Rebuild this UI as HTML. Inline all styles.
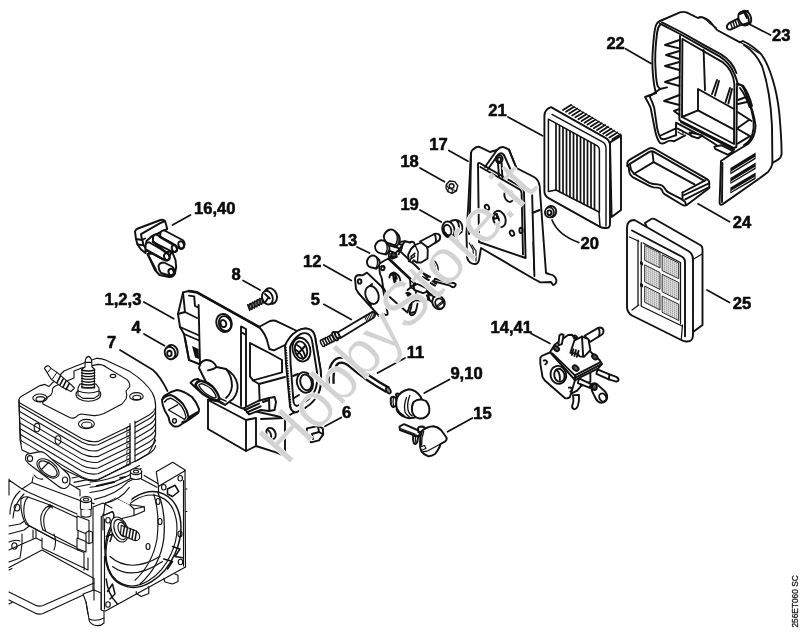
<!DOCTYPE html>
<html><head><meta charset="utf-8"><title>256ET060 SC</title>
<style>
html,body{margin:0;padding:0;background:#fff;}
body{width:800px;height:632px;overflow:hidden;}
svg{display:block;will-change:transform;}
.l{font-family:"Liberation Sans",sans-serif;font-weight:bold;font-size:16.6px;fill:#0a0a0a;stroke:#0a0a0a;stroke-width:0.55px;stroke-linejoin:round;}
.p{fill:none;stroke:#111;stroke-linecap:round;stroke-linejoin:round;}
.w{fill:#fff;stroke:#111;stroke-linecap:round;stroke-linejoin:round;}
.k{fill:#111;stroke:none;}
</style></head>
<body>
<svg width="800" height="632" viewBox="0 0 800 632">
<rect width="800" height="632" fill="#fff"/>
<!-- housing 1,2,3 -->
<g transform="translate(165,280) scale(.2)" class="p" stroke-width="9.5">
<!-- lower box -->
<path class="w" d="M215,600 L215,745 L405,855 L455,830 L555,862 L600,880 L600,600 Z"/>
<path d="M405,855 L405,700 M455,830 L455,690 M215,600 L405,700 L455,690 M600,690 L480,695"/>
<ellipse cx="530" cy="768" rx="22" ry="30" transform="rotate(-25 530 768)"/>
<path d="M515,750 Q535,765 530,795"/>
<!-- main plate -->
<path class="w" d="M90,62 L120,55 L160,62 L470,235 L525,205 Q545,198 562,208 L660,255 Q700,232 730,250 Q748,262 752,295 L778,450 Q785,520 770,560 L700,640 L640,665 L600,690 L425,650 L380,640 L300,600 L170,420 L120,400 L95,270 L75,235 L65,170 Z"/>
<path d="M120,55 L160,62 L470,235" stroke-width="13"/>
<!-- left wing -->
<path d="M168,125 L175,420 M120,78 L146,82 L150,130 L168,138 M90,62 L100,160 L160,190 M65,170 L100,160 M75,235 L165,275 M95,270 L165,300 M120,400 L100,290"/>
<path class="k" d="M135,330 L168,345 L170,395 L150,388 Z"/>
<!-- boss -->
<ellipse cx="295" cy="215" rx="38" ry="46" transform="rotate(-20 295 215)"/>
<ellipse cx="300" cy="218" rx="30" ry="38" transform="rotate(-20 300 218)"/>
<ellipse cx="292" cy="218" rx="14" ry="18" transform="rotate(-20 292 218)"/>
<!-- slot -->
<path d="M380,232 L405,245 L405,640 M380,232 L380,630 M380,260 L405,275"/>
<!-- right box -->
<path d="M470,235 Q505,270 515,320 L522,345 L545,352 L600,325 L640,270"/>
<path d="M425,315 L522,365 L585,400 L585,462 L440,502 L425,482 Z"/>
<path d="M440,502 L470,520 L600,485 M470,520 L475,650"/>
<!-- flange -->
<path class="w" d="M600,330 Q615,285 660,255 Q700,232 730,250 Q748,262 752,295 L778,450 Q785,520 770,560 Q750,610 700,640 L655,662 Q630,660 625,630 L605,420 Z"/>
<path d="M603,335 L628,640" stroke-width="11" stroke-dasharray="7 6" style="stroke-linecap:butt"/>
<path d="M625,335 Q640,295 675,272 Q705,258 722,275 Q735,290 738,320 L760,460 Q765,520 750,552 Q735,590 695,612 L660,630 Q645,628 642,605 L628,420 Z"/>
<ellipse cx="682" cy="348" rx="44" ry="60" transform="rotate(-15 682 348)"/>
<ellipse cx="680" cy="350" rx="30" ry="44" transform="rotate(-15 680 350)"/>
<path d="M660,325 Q690,340 700,380 M655,350 Q680,365 690,395 M662,372 L700,330"/>
<ellipse cx="700" cy="512" rx="40" ry="52" transform="rotate(-15 700 512)"/>
<ellipse cx="705" cy="512" rx="28" ry="40" transform="rotate(-15 705 512)"/>
<path d="M640,480 L665,470 M645,590 L670,575"/>
<!-- small connector -->
<path class="w" d="M395,640 L465,605 L520,590 L548,585 L555,610 L548,650 L520,655 L480,650 L420,672 Z"/>
<path d="M400,650 L470,618 M410,662 L478,632 M520,590 L522,655 M490,610 L520,600" stroke-width="10"/>
<!-- intake elbow -->
<path class="w" d="M170,440 Q175,405 205,400 Q240,398 258,435 L305,445 Q350,470 362,520 Q368,560 340,595 L300,625 L250,600 Z"/>
<path d="M258,435 Q240,450 215,452 M305,445 Q335,480 335,530 Q330,570 305,590"/>
</g>
<!-- washer 4 -->
<g transform="translate(165,280) scale(.2)" class="p" stroke-width="9.5">
<ellipse class="w" cx="35" cy="358" rx="28" ry="34" transform="rotate(-20 35 358)"/>
<ellipse class="w" cx="25" cy="365" rx="26" ry="32" transform="rotate(-20 25 365)"/>
<ellipse cx="22" cy="368" rx="11" ry="14"/>
</g>
<g transform="translate(150,375) scale(.1)" class="p" stroke-width="19.5">
<path class="w" d="M405,78 L440,48 L480,40 L700,235 L680,262 L640,258 L470,140 Z"/>
<path class="w" d="M455,95 Q470,62 510,58 Q570,70 625,115 Q680,175 692,232 Q685,255 655,252 Q590,235 530,190 Q470,140 455,95 Z" stroke-width="24"/>
<path d="M488,102 Q500,85 525,88 Q575,105 615,140 Q655,185 662,222 Q655,232 638,228 Q590,212 545,175 Q500,135 488,102 Z" stroke-width="13"/>
<path d="M700,235 L760,262 M690,255 L740,285" stroke-width="14"/>
</g>

<!-- engine lower -->
<g transform="translate(0,430) scale(.2)" class="p" stroke-width="5.5">
<path class="w" d="M45,250 L110,295 L160,265 L165,235 L400,330 L470,365 L520,370 L520,1010 L470,990 L440,820 L215,930 L45,830 Z" style="stroke:none"/>
<path d="M165,235 L160,262 L400,352 L470,368 M160,262 L110,295 L140,310 L385,420 M170,225 Q190,250 215,245 M350,270 L400,300 L400,330 M360,240 L640,180 M370,262 L600,215 M380,285 L560,250"/>
<path d="M45,245 L45,325 M45,250 L110,295 M50,420 Q50,350 100,305 M65,440 Q70,370 120,320 M45,480 L100,470 L130,450 M45,520 L120,500 L160,470 L160,440"/>
<ellipse cx="85" cy="388" rx="14" ry="17"/>
<path class="w" d="M105,345 Q120,330 140,335 L250,375 L390,440 L390,600 L270,545 L130,470 Q100,420 105,345 Z"/>
<path d="M140,335 Q115,360 120,420 Q125,455 140,470 M250,375 Q215,390 205,430 Q200,470 215,500 M262,380 Q230,395 220,435 Q215,475 228,505 M250,375 L262,380 M240,385 Q255,375 262,390"/>
<path d="M130,470 L270,545 M215,500 L390,590 M270,520 Q285,560 270,600"/>
<path class="w" d="M385,430 L445,452 L445,525 L385,500 Z"/><path class="w" d="M430,512 L445,505 L462,510 L462,562 L445,568 L430,562 Z"/><path d="M445,505 L445,568"/>
<path class="w" d="M385,540 L430,558 L430,610 L385,592 Z"/>
<path d="M45,600 L110,570 L110,520 M110,570 L180,540 L180,500 M165,540 L165,500 M45,560 Q80,545 100,555 M45,660 L100,640 L110,570 M210,590 L440,700 L440,640 M210,590 L210,540 M180,540 L210,555 M390,600 L420,612 L420,700"/>
<ellipse cx="72" cy="580" rx="13" ry="16"/>
<path class="w" d="M45,688 L210,600 L470,742 L470,800 L215,918 Q195,925 175,915 L45,850 Z" style="stroke:none"/><path d="M45,688 L210,600 L470,742 L470,800 L215,918 Q195,925 175,915 L45,850"/>
<path d="M45,810 L175,875 Q195,885 215,878 L470,765 M45,700 L60,692 M45,870 L60,862"/>
</g>
<g transform="translate(0,474) scale(.25)" class="p" stroke-width="4.6">
<path class="w" d="M405,170 L420,118 L462,94 L518,122 L565,20 L625,-9 L691,-47 L740,-16 L742,372 L700,400 L712,405 L712,430 L690,440 L660,432 L655,418 L595,450 L595,478 L565,490 L545,478 L422,548 L405,545 Z" style="stroke:none"/>
<ellipse class="w" cx="572" cy="262" rx="140" ry="200" transform="rotate(24 572 262)" stroke-width="6"/>
<ellipse cx="566" cy="266" rx="130" ry="190" transform="rotate(24 566 266)"/>
<path d="M632,75 Q665,150 655,260 Q640,370 560,440" stroke-width="5"/>
<path d="M615,80 Q640,160 628,260 Q610,360 540,425" />
<path d="M440,330 Q520,400 640,330 M450,370 Q530,430 650,350"/>
<ellipse cx="632" cy="110" rx="8" ry="12"/>
<ellipse cx="592" cy="290" rx="8" ry="12"/>
<ellipse cx="640" cy="190" rx="8" ry="12"/>
<ellipse cx="720" cy="240" rx="8" ry="12"/>
<path class="w" d="M625,-9 L691,-47 L740,-16 L740,-13 L643,44 L634,50 Z"/>
<path d="M740,-16 L742,372 M634,50 L634,75 M734,26 L734,368"/>
<path d="M565,20 L628,53 M577,6 L631,38"/>
<path class="w" d="M420,118 L462,94 L518,122 L577,131 L578,148 L536,166 L455,186 L455,160 L450,150 L414,166 Z"/>
<path d="M536,166 L536,140 L518,122 M536,140 L577,131"/>
<path d="M405,545 L405,170 L414,166 L450,150 L455,160 L455,186 L440,200"/><path d="M418,330 L418,540"/>
<path d="M418,180 L418,300 M405,545 L422,548 L742,372"/>
<ellipse class="w" cx="432" cy="185" rx="9" ry="11"/>
<ellipse class="w" cx="721" cy="17" rx="9" ry="11"/>
<ellipse class="w" cx="655" cy="53" rx="9" ry="11"/>
<ellipse class="w" cx="722" cy="352" rx="9" ry="11"/>
<ellipse class="w" cx="432" cy="522" rx="9" ry="11"/>
<path d="M700,400 L712,405 L712,430 L690,440 L660,432 L655,418 M595,450 L595,478 L565,490 L545,478 L545,470"/>
<ellipse class="w" cx="478" cy="222" rx="32" ry="52" transform="rotate(-20 478 222)"/><ellipse cx="482" cy="222" rx="24" ry="42" transform="rotate(-20 482 222)"/><ellipse class="w" cx="490" cy="222" rx="16" ry="30" transform="rotate(-20 490 222)"/>
<path class="w" d="M485,205 L545,228 Q562,240 558,258 Q550,270 535,265 L482,242 Z"/>
<path d="M498,208 L492,245 M510,213 L504,250 M522,218 L516,255 M534,223 L528,260 M546,230 L540,264" stroke-width="6"/>
<path d="M690,290 L720,300 L700,330 L730,335 M655,340 L690,350 L670,380 M430,470 L450,440 L460,480 L440,500 M425,250 L450,240 L440,270 M670,60 L700,45 L715,70 L690,90 L670,80 Z M425,420 Q430,480 470,520" stroke-width="6"/>
<path d="M742,60 L748,60 M742,150 L748,150"/>
</g>
<g transform="translate(90,455) scale(.1504)" class="p" stroke-width="7">
<path class="w" d="M-60,120 L0,180 L30,300 L100,320 L170,282 L262,330 L330,140 L345,100 L330,60 L200,40 Z" style="stroke:none"/>
<path d="M0,180 Q150,170 330,70 M0,215 Q160,200 340,90 M0,250 Q170,230 345,110 M30,295 Q180,260 250,180 L330,140 M100,320 Q200,300 262,215"/>
<path d="M45,205 L160,180" stroke-width="13"/><path d="M200,152 L232,146" stroke-width="11"/>
</g>
<g transform="translate(0,430) scale(.2)" class="p" stroke-width="5.5">
<path class="w" d="M415,820 L470,800 L505,815 L505,900 L520,905 L520,965 Q500,985 470,975 Q445,965 445,945 L430,860 Z"/>
<path d="M430,860 L440,920 M470,800 L470,850 M445,945 Q480,960 520,940"/>
<path d="M465,385 L465,800 M465,385 L515,365 L560,390 M515,420 L515,500"/>
</g>

<!-- engine -->
<g transform="translate(10,350) scale(.2)" class="p" stroke-width="5.5">
<path class="w" d="M45,250 Q45,238 60,230 L150,178 L175,172 L195,182 L270,105 L330,80 L430,42 Q455,40 478,50 L600,108 Q680,160 712,215 Q728,245 728,280 L728,420 Q720,480 690,520 L640,550 L600,568 L440,650 Q400,660 360,640 L60,500 L50,450 Z"/>
<path d="M46.5,279 L360,461 Q400,481 440,474 L600,397"/>
<path d="M625,384 L700,341 Q725,324 728,304"/>
<path d="M48.0,308 L360,490 Q400,510 440,503 L600,426"/>
<path d="M625,413 L700,370 Q725,353 728,333"/>
<path d="M49.5,337 L360,519 Q400,539 440,532 L600,455"/>
<path d="M625,442 L700,399 Q725,382 728,362"/>
<path d="M51.0,366 L360,548 Q400,568 440,561 L600,484"/>
<path d="M625,471 L700,428 Q725,411 728,391"/>
<path d="M52.5,395 L360,577 Q400,597 440,590 L600,513"/>
<path d="M625,500 L700,457 Q725,440 728,420"/>
<path d="M54.0,424 L360,606 Q400,626 440,619 L600,542"/>
<path d="M625,529 L700,486 Q725,469 728,449"/>
<path d="M55.5,453 L360,635 Q400,655 440,648 L600,571"/>
<path d="M625,558 L700,515 Q725,498 728,478"/>
<path d="M45,262 L360,444 Q400,464 440,457 L600,380"/>
<path d="M625,365 L700,322 Q725,305 728,285"/>
<path d="M45,250 L45,280 L55,470 M600,368 L600,565 M625,355 L625,552"/>
<path d="M586,385 L600,379 L600,399 L586,403 Z" stroke-width="4"/>
<path d="M586,414 L600,408 L600,428 L586,432 Z" stroke-width="4"/>
<path d="M586,443 L600,437 L600,457 L586,461 Z" stroke-width="4"/>
<path d="M586,472 L600,466 L600,486 L586,490 Z" stroke-width="4"/>
<path d="M586,501 L600,495 L600,515 L586,519 Z" stroke-width="4"/>
<path d="M586,530 L600,524 L600,544 L586,548 Z" stroke-width="4"/>
<path d="M586,559 L600,553 L600,573 L586,577 Z" stroke-width="4"/>
<path d="M165,270 Q160,255 175,245 L205,225 Q215,212 212,198 Q215,183 235,176 L320,140 L320,105 L352,92 L440,72 Q465,72 480,85 L585,148 Q602,165 598,185 L580,205 Q588,225 580,245 L560,270 L470,318 Q440,330 420,328 L355,320 Q340,322 330,335 Q315,345 298,338 Z"/>
<ellipse cx="150" cy="240" rx="36" ry="20"/><ellipse cx="152" cy="245" rx="22" ry="12"/>
<ellipse cx="382" cy="370" rx="40" ry="23"/><ellipse cx="384" cy="375" rx="26" ry="15"/>
<ellipse cx="632" cy="232" rx="34" ry="19"/><ellipse cx="634" cy="237" rx="20" ry="11"/>
<ellipse cx="515" cy="130" rx="14" ry="8"/>
<ellipse cx="135" cy="388" rx="14" ry="21"/><ellipse cx="240" cy="450" rx="14" ry="21"/>
<ellipse class="w" cx="392" cy="222" rx="62" ry="34"/>
<path class="w" d="M340,190 L350,170 L430,170 L445,190 L445,225 L420,242 L365,242 L340,225 Z"/>
<path class="w" d="M360,190 L360,95 L375,85 L376,55 Q380,35 392,32 Q405,35 408,55 L410,85 L422,95 L422,190 Z"/>
<path d="M358,100 Q392,110 424,100" stroke-width="7"/>
<path d="M358,114 Q392,124 424,114" stroke-width="7"/>
<path d="M358,128 Q392,138 424,128" stroke-width="7"/>
<path d="M358,142 Q392,152 424,142" stroke-width="7"/>
<path d="M358,156 Q392,166 424,156" stroke-width="7"/>
<path d="M358,170 Q392,180 424,170" stroke-width="7"/>
<path d="M358,184 Q392,194 424,184" stroke-width="7"/>
<path d="M340,205 Q392,225 445,205 M375,62 L408,62"/>
<path class="w" d="M172,92 Q178,76 195,80 L205,92 L235,112 L300,168 L322,190 L305,208 L255,182 L205,145 L185,112 Z"/>
<path d="M205,92 L188,112 M235,112 L212,145" stroke-width="5"/>
<path d="M252,130 L236,162 M266,144 L250,174 M280,156 L265,186 M296,168 L280,198" stroke-width="8"/>
</g>

<g transform="translate(0,430) scale(.2)" class="p" stroke-width="5.5">
<path class="w" d="M128,135 Q130,118 150,118 L200,108 Q215,108 228,118 L335,215 Q352,232 350,255 Q348,285 325,292 Q305,295 290,280 L165,185 Q140,170 128,150 Z"/>
<ellipse cx="240" cy="192" rx="64" ry="36" transform="rotate(38 240 192)"/><ellipse cx="240" cy="194" rx="54" ry="27" transform="rotate(38 240 194)"/>
<ellipse cx="150" cy="143" rx="13" ry="15"/><ellipse cx="325" cy="250" rx="13" ry="15"/><path d="M205,200 L245,160"/>
<path class="w" d="M402,352 L402,395 Q430,410 458,395 L458,352 Z"/><ellipse class="w" cx="430" cy="348" rx="28" ry="15"/><ellipse cx="430" cy="348" rx="13" ry="7"/>
<path class="w" d="M405,400 L405,430 Q430,442 455,430 L455,400"/>
<path class="w" d="M652,212 L652,240 Q680,255 708,240 L708,212 Z"/><ellipse class="w" cx="680" cy="208" rx="28" ry="15"/><ellipse cx="680" cy="208" rx="13" ry="7"/>
</g>

<!-- sleeve 7 -->
<g transform="translate(150,375) scale(.1)" class="p" stroke-width="19.5">
<path class="w" d="M120,250 Q125,225 145,208 Q200,165 270,150 Q340,160 420,220 Q470,275 490,340 Q492,368 478,382 L400,440 L330,482 L300,502 Q270,525 232,510 Q200,485 195,465 L185,420 L150,360 Q120,300 120,250 Z"/>
<path d="M128,240 Q155,205 205,200 Q260,215 330,290 Q372,350 385,415 Q385,450 360,462 L322,472"/>
<path d="M145,270 Q168,235 205,232 Q255,250 315,312 Q352,368 360,420 Q356,440 340,448" stroke-width="14"/>
<path d="M185,350 L340,440 M190,345 L275,298" stroke-width="14"/>
<path d="M395,425 L472,378" stroke-width="30"/>
<ellipse cx="245" cy="458" rx="19" ry="22" stroke-width="14"/>
<path d="M262,235 L300,262" stroke-width="14"/>
</g>
<!-- screw 23 -->
<g transform="translate(640,0) scale(.2)" class="p" stroke-width="9.5">
<path class="w" d="M500,88 L445,116 Q430,128 436,142 Q444,152 458,146 L515,120 Z"/>
<path d="M452,113 L462,142 M464,107 L474,137 M476,101 L486,131 M488,96 L498,126" stroke-width="7"/>
<ellipse class="w" cx="530" cy="88" rx="24" ry="36" transform="rotate(-25 530 88)"/>
<ellipse class="w" cx="518" cy="93" rx="24" ry="36" transform="rotate(-25 518 93)"/>
<path d="M498,70 L540,55 M510,125 L548,112 M520,60 L535,90"/>
</g>

<!-- hose 11 -->
<g transform="translate(310,330) scale(.2)" fill="none">
<path d="M106,270 Q100,180 136,156 Q165,140 202,170 Q290,246 390,300" stroke="#111" stroke-width="36" stroke-linecap="butt"/>
<path d="M106,272 Q100,180 136,156 Q165,140 202,170 Q290,246 386,298" stroke="#fff" stroke-width="13" stroke-linecap="butt"/>
<ellipse cx="392" cy="302" rx="10" ry="17" transform="rotate(-30 392 302)" fill="#888" stroke="#111" stroke-width="8"/>
</g>
<!-- bulb 9,10 -->
<g transform="translate(385,385) scale(.1)" class="p" stroke-width="19.5">
<path class="w" d="M108,95 Q120,80 140,88 L150,115 L125,128 Z"/>
<path class="w" d="M58,135 Q60,120 80,118 L105,125 L115,165 L108,210 L80,222 Q62,215 58,180 Z"/>
<path d="M85,120 Q75,165 88,218" stroke-width="12"/>
<path class="w" d="M120,130 Q150,60 240,42 Q310,50 355,115 L370,150 L300,325 L240,332 Q170,320 130,270 Q100,200 120,130 Z"/>
<path d="M215,125 Q185,200 200,270 Q215,305 245,318 M248,105 Q218,180 230,250 Q242,295 272,308" stroke-width="13"/>
<path d="M120,245 Q140,290 185,310" stroke-width="26"/>
<path class="w" d="M285,170 Q340,125 410,160 Q455,210 440,280 Q410,340 345,335 Q290,325 272,270 Q262,215 285,170 Z"/>
</g>
<!-- knob 15 -->
<g transform="translate(385,410) scale(.1)" class="p" stroke-width="19.5">
<path class="w" d="M145,165 L190,142 L335,205 L350,225 L340,262 L285,250 L150,200 Z"/>
<path d="M160,188 L300,240" stroke-width="12"/>
<path class="w" d="M330,185 Q335,165 365,165 Q400,168 402,188 L398,215 L335,220 Z"/>
<path class="w" d="M282,255 Q275,300 290,335 Q310,348 322,322 L332,268 Z"/>
<path d="M305,265 Q300,300 310,330" stroke-width="12"/>
<path class="w" d="M372,205 Q420,165 485,162 Q530,168 560,200 L615,275 Q622,300 600,315 L555,340 Q545,385 500,440 Q465,465 430,462 Q385,445 365,415 Q350,380 350,340 Q345,270 372,205 Z"/>
<path d="M600,315 L420,412 L370,420 M387,215 Q362,280 366,350" stroke-width="13"/>
<path class="w" d="M350,368 L395,355 L410,385 L365,402 Z" stroke-width="12"/>
</g>
<!-- clip 6 -->
<g transform="translate(310,330) scale(.2)" class="p" stroke-width="9.5">
<path class="w" d="M-15,492 L40,480 L64,492 L66,522 L45,552 L5,562 L-20,535 Z"/>
<path d="M10,520 L45,510 L62,520 M10,520 L15,545 M40,482 L45,510"/>
</g>
<!-- screw 5 -->
<g transform="translate(300,190) scale(.25)" class="p" stroke-width="7.6">
<path class="w" d="M150,570 L288,488 Q298,486 300,496 Q302,506 296,510 L162,592 Z"/>
<path d="M267.1,525.6 L258.7,507.3 M273.1,522.0 L264.7,503.7 M279.1,518.4 L270.7,500.1 M285.1,514.8 L276.7,496.5 M291.1,511.2 L282.7,492.9 M297.1,507.6 L288.7,489.3 " stroke-width="4"/>
</g>
<g transform="translate(270,310) scale(.1)" class="p" stroke-width="19">
<ellipse class="w" cx="526" cy="331" rx="15" ry="36" transform="rotate(-28 526 331)" stroke-width="15"/>
<ellipse class="w" cx="550" cy="319" rx="15" ry="36" transform="rotate(-28 550 319)" stroke-width="15"/>
<ellipse class="w" cx="574" cy="307" rx="15" ry="36" transform="rotate(-28 574 307)" stroke-width="15"/>
<ellipse class="w" cx="598" cy="295" rx="15" ry="36" transform="rotate(-28 598 295)" stroke-width="15"/>
<ellipse class="w" cx="620" cy="284" rx="15" ry="36" transform="rotate(-28 620 284)" stroke-width="15"/>
<ellipse class="w" cx="652" cy="262" rx="22" ry="46" transform="rotate(-28 652 262)"/>
<ellipse class="w" cx="672" cy="252" rx="18" ry="34" transform="rotate(-28 672 252)"/>
</g>

<!-- grommet 19 -->
<g transform="translate(340,205) scale(.2)" class="p" stroke-width="9.5">
<path class="w" d="M545,85 Q580,65 602,85 Q618,105 608,135 L575,160 Z"/>
<path d="M585,80 Q600,100 592,135"/>
<ellipse class="w" cx="542" cy="122" rx="30" ry="40" transform="rotate(-15 542 122)"/>
<ellipse cx="538" cy="126" rx="18" ry="27" transform="rotate(-15 538 126)"/>
<path d="M528,140 Q540,160 555,150"/>
</g>
<!-- gasket 12 -->
<g transform="translate(340,205) scale(.2)" class="p" stroke-width="9.5">
<path class="w" d="M75,368 Q78,350 98,350 L112,352 L135,338 L205,405 L215,420 L238,540 Q240,552 228,550 L215,545 L195,555 L92,440 L80,420 Z"/>
<ellipse cx="160" cy="450" rx="32" ry="46" transform="rotate(-20 160 450)"/>
<ellipse cx="98" cy="382" rx="9" ry="11"/>

<path d="M150,405 L160,395 M145,490 L155,500"/>
</g>
<!-- carb 13 -->
<g transform="translate(340,225) scale(.125)" class="p" stroke-width="15">
<!-- body front face -->
<path class="w" d="M310,312 L360,282 L388,268 L560,430 L600,470 L640,500 L700,520 L720,560 L690,610 L600,600 L560,640 L540,700 L470,640 L380,560 L345,500 L335,430 L320,390 Z"/>
<path d="M388,268 L560,430 L600,470" stroke-width="20"/>
<path d="M400,262 L470,200 L520,130 L560,140 M470,200 L610,330 L700,420"/>
<ellipse cx="342" cy="346" rx="13" ry="16"/>
<path d="M330,330 Q350,320 358,340"/>
<path d="M395,420 Q400,385 430,380 Q465,390 480,430 Q490,470 470,490 M415,400 Q440,410 445,450 M440,395 L455,430 M430,380 Q420,420 440,470"/>
<path d="M560,430 L565,500 L600,470 M565,500 L540,520 M600,600 L610,520 L565,500"/>
<path d="M540,555 Q555,540 565,555 Q562,570 548,572"/>
<!-- cylinders -->
<path class="w" d="M350,92 Q360,50 395,38 Q420,32 440,50 L470,82 Q485,110 478,135 L455,170 Q430,160 400,150 Q355,140 350,92 Z"/>
<path d="M440,50 Q462,80 458,120 Q452,150 440,162" stroke-width="11"/>
<path d="M455,60 Q472,95 465,140" stroke-width="9"/>
<path class="w" d="M280,172 Q288,135 320,124 Q345,118 365,135 L390,162 Q400,185 394,205 L370,236 Q345,230 320,225 Q282,215 280,172 Z"/>
<path d="M365,135 Q382,160 378,195 Q372,220 360,232" stroke-width="11"/>
<path class="w" d="M215,292 Q222,258 250,246 Q272,240 290,255 L312,278 Q322,298 314,320 L292,350 Q270,345 245,338 Q215,328 215,292 Z"/>
<path d="M290,255 Q305,278 300,310 Q296,335 285,348" stroke-width="11"/>
<!-- linkage dark blob -->
<path d="M395,205 L440,225 L455,255 L420,270 L390,250 Z M400,165 L470,185 M440,160 L480,200 L470,235 M420,230 L450,240" stroke-width="14"/>
<ellipse cx="430" cy="240" rx="22" ry="18" style="fill:#444"/>
<path d="M480,135 L520,130 M470,150 L500,160 L490,200"/>
<!-- fork lever -->
<path class="w" d="M545,238 L568,192 L600,160 L650,140 L690,160 L702,200 L700,268 L650,300 L612,300 L590,282 L575,300 L550,290 Z"/>
<path d="M600,160 L625,215 L620,292 M568,250 L600,225 M560,275 L592,255 M575,245 L560,290 M590,235 L598,250" stroke-width="11"/>
<!-- shaft -->
<path class="w" d="M640,132 L755,72 Q785,62 800,85 Q806,110 790,125 L702,180 Z"/>
<path d="M755,72 Q772,95 765,140"/>
<path d="M560,140 Q575,128 592,140 L600,160"/>
</g>
<g transform="translate(380,250) scale(.125)" class="p" stroke-width="15">
<!-- rod right -->
<path class="w" d="M440,230 L560,262 Q590,260 605,272 Q608,290 590,298 Q572,298 560,285 L430,250 Z"/>
<path d="M355,190 L400,215 M340,215 L390,240 M420,250 L450,270 M405,265 L440,285" stroke-width="16"/>
<path d="M430,80 Q470,120 465,170 M415,90 Q450,130 445,175" stroke-width="12"/>
<!-- bar -->
<path class="w" d="M270,285 L300,272 L380,310 L372,335 L345,345 L275,320 Z"/>
<!-- screw -->
<path class="w" d="M385,350 L430,372 L420,420 L395,400 Z"/>
<ellipse class="w" cx="468" cy="420" rx="48" ry="55" transform="rotate(-30 468 420)"/>
<ellipse cx="478" cy="428" rx="34" ry="42" transform="rotate(-30 478 428)"/>
<path d="M455,445 L500,410 M462,455 L505,420" stroke-width="10"/>
<path d="M380,340 L420,355 M375,365 L395,400" stroke-width="16"/>
<!-- pipe -->
<path class="w" d="M255,420 Q250,470 238,495 Q235,515 250,522 Q268,525 280,505 Q295,470 300,430"/>
<path d="M240,500 Q260,505 275,495"/>
<path d="M210,345 Q225,335 235,350 Q232,362 220,362"/>
</g>

<!-- carb 14,41 -->
<g transform="translate(520,320) scale(.1504)" class="p" stroke-width="12.5">
<!-- shaft -->
<path class="w" d="M430,105 L520,52 Q545,45 555,68 Q558,90 540,100 L468,145 Z"/>
<path d="M520,52 Q535,70 525,108"/>
<!-- top face -->
<path class="w" d="M200,215 L230,165 L320,100 L345,98 L530,268 L545,292 L380,378 L355,388 Z"/>
<path d="M215,222 L365,368 L532,282 M365,368 L368,392"/>
<!-- pin -->
<path class="w" d="M262,102 Q275,90 290,98 L278,160 L255,168 Z"/>
<!-- lever fork -->
<path class="w" d="M335,218 L362,135 L412,110 L455,128 L468,200 L425,245 L395,242 L385,225 Z"/>
<path d="M345,232 L355,195 M362,240 L372,200 M378,245 L390,205 M412,110 L420,240"/>
<!-- screws on top -->
<ellipse cx="242" cy="190" rx="20" ry="14" transform="rotate(40 242 190)" fill="#555"/>
<ellipse cx="370" cy="320" rx="22" ry="15" transform="rotate(40 370 320)" fill="#555"/>
<ellipse cx="497" cy="245" rx="20" ry="14" transform="rotate(40 497 245)" fill="#555"/>
<ellipse cx="368" cy="115" rx="14" ry="10" transform="rotate(40 368 115)"/>
<!-- front face -->
<path class="w" d="M135,252 Q140,238 160,232 L200,215 L355,388 L365,402 L332,512 Q320,525 300,520 L165,402 L150,380 L135,290 Z"/>
<ellipse cx="255" cy="365" rx="52" ry="60" transform="rotate(-15 255 365)"/>
<ellipse cx="262" cy="368" rx="34" ry="44" transform="rotate(-15 262 368)"/>
<path d="M240,330 Q270,350 265,400"/>
<path d="M158,270 Q172,262 180,278 Q180,292 168,295"/>
<path d="M325,450 Q340,445 345,460 Q345,472 335,475"/>
<!-- right side -->
<path d="M365,402 L400,382 L520,322 L545,292 M400,382 L405,440 L468,410 L468,350 M405,440 L380,470 L340,490"/>
<!-- right rod -->
<path class="w" d="M515,328 L595,362 L640,378 Q658,388 655,400 Q650,412 635,408 L590,395 L508,358 Z"/>
<path d="M595,362 L590,395"/>
<!-- front rod -->
<path class="w" d="M392,388 L470,425 L465,452 L385,420 Z"/>
<!-- elbow -->
<path class="w" d="M470,430 Q490,415 510,425 L565,475 Q585,500 578,525 Q565,552 540,550 Q515,545 505,525 L480,475 Z"/>
<ellipse cx="550" cy="515" rx="22" ry="28" transform="rotate(-30 550 515)"/>
<ellipse cx="495" cy="445" rx="16" ry="20" fill="#555"/>
<!-- bottom pipe -->
<path class="w" d="M352,500 L392,498 Q395,540 385,570 Q375,595 358,592 Q342,585 348,565 Q360,540 352,500 Z"/>
</g>

<!-- connector 16,40 -->
<g transform="translate(125,210) scale(.1)" class="p" stroke-width="19.5">
<!-- lower bracket -->
<path class="w" d="M225,440 L470,415 L505,500 L512,570 L498,640 Q480,672 440,670 L345,650 L300,600 Z"/>
<path d="M235,455 L310,600 M470,415 L440,470"/>
<!-- tube D -->
<path class="w" d="M335,560 Q345,525 390,525 L470,565 Q500,590 495,625 Q480,660 450,658 L360,630 Q335,600 335,560 Z"/>
<ellipse cx="462" cy="622" rx="26" ry="34" transform="rotate(-20 462 622)"/>
<!-- back block -->
<path class="w" d="M100,215 Q105,195 130,185 L355,100 Q385,92 400,110 L412,150 L422,190 L330,235 L270,260 L215,310 L205,430 L160,395 L125,345 L110,290 Z"/>
<path d="M160,242 L352,132 L400,110 M160,242 L170,300 L110,290 M170,300 L200,285 M125,345 L185,352 L205,380 M185,352 L175,305"/>
<!-- tubes -->
<path class="w" d="M355,225 Q365,200 395,205 L575,300 Q600,320 595,350 Q585,388 555,390 L350,280 Z"/>
<ellipse cx="562" cy="350" rx="27" ry="38" transform="rotate(-20 562 350)"/>
<path class="w" d="M280,270 Q290,240 320,248 L500,348 Q525,368 518,398 Q505,425 480,422 L280,320 Z"/>
<ellipse cx="494" cy="386" rx="25" ry="35" transform="rotate(-20 494 386)"/>
<path class="w" d="M205,350 Q212,318 245,325 L425,430 Q450,450 445,480 Q432,508 405,505 L205,400 Z"/>
<ellipse cx="418" cy="468" rx="26" ry="36" transform="rotate(-20 418 468)"/>
<path d="M350,270 L480,345 M280,315 L410,425 M215,400 L380,492" stroke-width="24"/>
</g>
<!-- screw 8 -->
<g transform="translate(125,210) scale(.2)" class="p" stroke-width="9.5">
<path d="M623.3,503.2 L626.4,494.5 L635.3,497.1 L638.4,488.3 L647.3,491.0 L650.4,482.2 L659.3,484.8 L662.4,476.0 L671.3,478.7 L674.4,469.9 L683.3,472.5 L686.4,463.8 L695.3,466.4 L698.4,457.6 L707.3,460.2 L696.4,429.8 L693.4,438.6 L684.4,436.0 L681.4,444.8 L672.4,442.1 L669.4,450.9 L660.4,448.3 L657.4,457.0 L648.4,454.4 L645.4,463.2 L636.4,460.6 L633.4,469.3 L624.4,466.7 L621.4,475.5 L612.4,472.8 Z" style="fill:#222" stroke-width="6"/>
<path d="M628.7,489.3 L626.4,477.1 M642.3,482.3 L640.0,470.1 M655.9,475.3 L653.6,463.1 M669.5,468.3 L667.2,456.1 M683.1,461.3 L680.8,449.1 M696.7,454.3 L694.4,442.1 " style="stroke:#bbb" stroke-width="3"/>
<ellipse class="w" cx="728" cy="430" rx="31" ry="40" transform="rotate(-20 728 430)"/>
<ellipse class="w" cx="712" cy="438" rx="26" ry="35" transform="rotate(-20 712 438)"/>
<path d="M700,420 L724,442 M702,460 L718,436"/>
</g>

<!-- part 17 bracket plate -->
<g transform="translate(430,130) scale(.2)" class="p" stroke-width="9.5">
<path class="w" d="M205,115 Q208,98 228,88 Q240,80 255,88 L300,110 L335,100 Q355,78 375,88 L395,98 L432,190 L520,235 Q545,250 548,280 L580,715 L600,722 Q625,725 632,750 Q632,772 615,775 L605,760 L552,762 L520,745 L255,590 L245,650 Q240,672 222,670 Q195,668 186,640 L182,520 L190,400 Z"/>
<!-- lug -->
<path d="M275,185 L335,100 M290,195 L340,125 Q355,108 370,125 L415,225 M395,98 L432,190"/>
<ellipse cx="346" cy="145" rx="17" ry="20"/>
<ellipse cx="346" cy="147" rx="9" ry="11"/>
<path d="M340,165 L345,235 M358,165 L362,240"/>
<!-- inner panel -->
<path d="M240,172 Q240,162 250,166 L455,285 Q470,295 470,310 L478,640 L245,560 Z"/>
<path d="M252,185 L450,298 Q458,305 458,318 L465,622"/>
<path d="M510,300 L522,730 M548,400 L512,415"/>
<path d="M205,115 L200,400 L195,520"/>
<!-- holes -->
<ellipse cx="347" cy="445" rx="30" ry="42" transform="rotate(-20 347 445)"/>
<path d="M330,420 Q350,440 345,480 M318,425 L335,420 L335,440 L318,445 Z"/>
<ellipse cx="395" cy="330" rx="22" ry="30" transform="rotate(-20 395 330)"/>
<ellipse cx="285" cy="387" rx="10" ry="14" transform="rotate(-25 285 387)"/>
<ellipse cx="410" cy="516" rx="10" ry="14" transform="rotate(-25 410 516)"/>
<ellipse cx="455" cy="502" rx="8" ry="13"/>
<!-- left clip -->
<path d="M196,565 L216,600 L216,650 M210,575 L230,605 L230,655" stroke-width="6"/>
<path d="M516,560 L520,700" stroke-width="7"/>
</g>
<!-- nut 18 -->
<g transform="translate(430,130) scale(.2)" class="p" stroke-width="7">
<path class="w" d="M82,272 L98,255 L124,258 L139,279 L132,304 L110,317 L90,308 L80,290 Z"/>
<path d="M90,308 L92,290 L82,272 M92,290 L112,298 L132,304 M112,298 L110,317" stroke-width="5"/>
<ellipse cx="108" cy="280" rx="12" ry="11"/>
</g>

<!-- part 21 filter -->
<g transform="translate(530,90) scale(.2)" class="p" stroke-width="9.5">
<path d="M165,100 L205,75" stroke-width="9"/>
<path d="M180,109 L220,84" stroke-width="9"/>
<path d="M196,118 L236,93" stroke-width="9"/>
<path d="M211,127 L251,102" stroke-width="9"/>
<path d="M227,136 L267,112" stroke-width="9"/>
<path d="M242,146 L282,121" stroke-width="9"/>
<path d="M258,155 L298,130" stroke-width="9"/>
<path d="M273,164 L313,139" stroke-width="9"/>
<path d="M288,173 L328,148" stroke-width="9"/>
<path d="M304,182 L344,157" stroke-width="9"/>
<path d="M319,191 L359,166" stroke-width="9"/>
<path d="M335,200 L375,175" stroke-width="9"/>
<path d="M350,210 L390,184" stroke-width="9"/>
<path d="M366,219 L406,194" stroke-width="9"/>
<path d="M381,228 L421,203" stroke-width="9"/>
<path d="M397,237 L437,212" stroke-width="9"/>
<path d="M412,246 L452,221" stroke-width="9"/>
<path d="M205,75 L450,222"  stroke-width="5"/>
<path class="w" d="M400,262 L455,228 L455,600 L408,635 Z"/>
<path class="w" d="M72,130 Q72,98 105,86 L375,238 Q400,250 400,280 L400,670 Q400,692 378,690 Q360,690 348,683 L95,542 Q72,530 72,505 Z"/>
<path d="M110,122 L360,258 Q380,268 380,292 L380,680" stroke-width="7"/>
<path d="M92,146 L92,508 L130,500 L345,610 L350,683 M92,146 L337,279 Q347,285 347,300 L347,612" stroke-width="7.5"/>
<path d="M130,169 L130,498" stroke-width="8.5"/>
<path d="M147.5,178 L147.5,507" stroke-width="8.5"/>
<path d="M165.0,188 L165.0,516" stroke-width="8.5"/>
<path d="M182.5,197 L182.5,525" stroke-width="8.5"/>
<path d="M200.0,207 L200.0,534" stroke-width="8.5"/>
<path d="M217.5,216 L217.5,543" stroke-width="8.5"/>
<path d="M235.0,226 L235.0,552" stroke-width="8.5"/>
<path d="M252.5,235 L252.5,561" stroke-width="8.5"/>
<path d="M270.0,245 L270.0,570" stroke-width="8.5"/>
<path d="M287.5,254 L287.5,579" stroke-width="8.5"/>
<path d="M305.0,264 L305.0,588" stroke-width="8.5"/>
<path d="M322.5,273 L322.5,597" stroke-width="8.5"/>
</g>
<g transform="translate(530,150) scale(.2)" class="p" stroke-width="9.5">
<ellipse class="w" cx="105" cy="308" rx="26" ry="28"/><ellipse class="w" cx="97" cy="312" rx="22" ry="25"/><ellipse cx="97" cy="314" rx="10" ry="12"/>
</g>

<!-- part 22 cover -->
<g transform="translate(640,0) scale(.2)" class="p" stroke-width="9.5">
<!-- outer silhouette -->
<path d="M80,465 C66,420 58,330 64,250 C68,190 72,140 82,122 Q88,110 100,105 L200,62 Q215,56 235,63 L290,90 L302,85 Q325,86 352,110 L385,150 L500,212 L514,205 Q565,228 605,270 C650,330 685,450 697,570 C704,650 708,730 708,770 Q706,790 690,798 L662,815 Q660,835 640,860 L600,890 L412,1022 Q400,1028 398,1015 L405,805 L465,765 L540,720 Q575,690 578,630 Q570,560 530,470 C520,440 505,415 485,420"/>
<path d="M311,86 Q335,100 350,118 L382,140 M505,214 Q550,235 592,264" stroke-width="6"/>
<!-- left flap -->
<path d="M80,465 L25,485 Q40,510 53,538 Q65,600 75,650 Q82,690 100,715 Q115,722 132,710 Q150,698 169,707 L226,677"/>
<path d="M100,445 L48,482 Q62,510 71,538 Q80,600 86,643 Q92,672 104,692 Q118,700 135,692 L177,677"/>
<path d="M98,680 L177,643"/>
<!-- inner left wall line -->
<path d="M100,125 Q90,135 86,160 C78,220 74,300 78,350 Q80,400 88,430 L100,445 L135,437"/>
<!-- front rim top edge -->
<path d="M100,118 L200,170 L320,238 L400,283 Q450,315 472,370 Q485,400 490,425"/>
<path d="M110,112 L205,160 L325,228 L405,272 Q460,305 482,365"/>
<!-- second right curve -->
<path d="M520,225 Q580,265 610,330 C640,420 655,520 660,630 L662,815"/>
<!-- inner box -->
<path d="M200,180 L197,600 L205,605 L470,740 L482,735 L485,430"/>
<path d="M212,195 L210,585 L470,720 L472,420 Q465,350 415,312 L212,195"/>
<path d="M210,585 L290,552 L470,648"/>
<path d="M290,552 L290,445 L470,545"/>
<path d="M318,250 L325,450"/>
<path d="M385,400 L360,470 M395,405 L375,478"/>
<path d="M450,440 L428,510 M460,445 L442,518"/>
<!-- fins left -->
<path d="M197,200 L125,225 L197,242"/>
<path d="M197,255 L130,275 L197,295"/>
<path d="M197,310 L125,330 L197,350"/>
<path d="M197,385 L125,410 L197,430"/>
<path d="M197,475 L120,505 L197,525"/>
<path d="M197,545 L170,555 L197,575"/>
<!-- ribs right of box -->
<path d="M485,420 L515,428 Q545,470 560,530 M500,440 Q530,480 548,535"/>
<path d="M490,500 L530,485 M490,520 L535,510"/>
<path d="M488,560 L558,605 M488,640 L545,600 M488,645 L552,682 M488,718 L548,682"/>
<path d="M541,500 Q560,550 568,600 Q572,640 560,680 Q545,712 520,725"/>
<!-- bottom tabs -->
<path d="M180,613 L180,677 M180,613 L301,677 L312,680 L384,726 M190,645 L250,675"/>
<path class="w" d="M248,662 L312,677 L290,692 L256,680 Z"/>
<path class="w" d="M372,733 L406,726 L466,756 L440,774 L376,744 Z"/>
<path d="M185,640 L215,655 L215,672 M190,660 L210,672" stroke-width="6"/>
<path d="M205,610 L470,748" stroke-width="11"/>
<!-- vent panel -->
<path d="M412,815 L410,1010"/>
<path class="k" d="M452,840 L578,762 L578,795 L452,872 Z"/>
<path class="k" d="M452,890 L578,812 L578,845 L452,920 Z"/>
<path class="k" d="M452,938 L578,862 L578,895 L452,968 Z"/>
<path d="M458,858 L572,788 M458,907 L572,838 M458,955 L572,887" stroke="#ddd" stroke-width="5"/>
</g>

<!-- part 24 tray -->
<g transform="translate(610,135) scale(.1504)" class="p" stroke-width="12.5">
<path class="w" d="M115,185 Q118,172 135,162 L255,92 Q272,82 292,90 L640,290 Q660,300 660,318 L660,352 L515,462 Q500,475 482,465 L365,395 Q350,385 345,365 Q335,350 318,350 L290,348 Q275,345 255,335 L150,280 Q130,265 128,245 L125,215 L115,205 Z"/>
<path d="M132,192 L262,112 Q278,104 292,112 L628,305"/>
<path d="M132,192 L140,232 L160,258 L290,180 L282,116"/>
<path d="M290,180 L562,328"/>
<path d="M160,258 L262,318 Q285,328 318,328 Q350,332 362,352 Q372,375 395,385 L482,430"/>
<path d="M482,382 L636,300 M486,402 L658,322 M500,428 L660,346" stroke-width="12"/>
<path d="M482,382 L482,430 L500,445 L505,465"/>
<path d="M116,205 L132,192"/>
</g>

<!-- part 25 mesh filter -->
<defs>
<pattern id="mesh" width="8" height="8" patternUnits="userSpaceOnUse" patternTransform="skewY(27)">
<rect width="8" height="8" fill="#f4f4f4"/>
<path d="M0,0 H8 M0,0 V8" stroke="#555" stroke-width="2.2" fill="none"/>
</pattern>
</defs>
<g transform="translate(600,200) scale(.25)" class="p" stroke-width="7.6">
<!-- back box -->
<path class="w" d="M180,92 L205,76 Q212,72 222,78 L404,182 Q410,186 410,198 L410,500 L372,528 Z"/>
<path d="M372,238 L410,215" stroke-width="5"/>
<!-- front frame -->
<path class="w" d="M108,112 Q108,80 138,80 L355,205 Q372,215 372,238 L372,540 Q372,568 345,566 Q335,566 325,560 L128,462 Q108,450 108,428 Z"/>
<path d="M128,122 L330,228 Q340,235 340,250 L340,545"/>
<path d="M118,148 L155,165 M128,440 L155,420 M325,558 L330,500" stroke-width="5"/>
<path d="M152,160 L152,420 M165,170 L165,425 L330,505" stroke-width="5"/>
<path d="M172,172 L322,250 L322,495" stroke-width="5"/>
<!-- mesh panels -->
<g stroke-width="3.5">
<path fill="url(#mesh)" d="M180,182 L240,212 L240,272 L180,242 Z"/>
<path fill="url(#mesh)" d="M250,220 L315,252 L315,315 L250,283 Z"/>
<path fill="url(#mesh)" d="M180,260 L240,290 L240,358 L180,328 Z"/>
<path fill="url(#mesh)" d="M250,298 L315,330 L315,400 L250,368 Z"/>
<path fill="url(#mesh)" d="M180,345 L240,375 L240,440 L180,410 Z"/>
<path fill="url(#mesh)" d="M250,385 L315,417 L315,482 L250,450 Z"/>
</g>
<path class="k" d="M160,245 L172,250 L172,262 L160,257 Z M160,332 L172,337 L172,350 L160,345 Z"/>
</g>

<g class="l">
<text x="606.4" y="48.7">22</text>
<text x="772" y="40.6">23</text>
<text x="488.3" y="116.3">21</text>
<text x="429.2" y="150">17</text>
<text x="400.4" y="166.6">18</text>
<text x="400.4" y="210">19</text>
<text x="580.6" y="249.3">20</text>
<text x="732.8" y="227.6">24</text>
<text x="732.8" y="309">25</text>
<text x="194" y="214.3">16,40</text>
<text x="338.7" y="246">13</text>
<text x="303" y="266.9">12</text>
<text x="231.4" y="280">8</text>
<text x="310.8" y="305.1">5</text>
<text x="104.5" y="304.5">1,2,3</text>
<text x="131.5" y="333.1">4</text>
<text x="107.1" y="348.3">7</text>
<text x="406.7" y="357.6">11</text>
<text x="450.4" y="379">9,10</text>
<text x="473.3" y="418.5">15</text>
<text x="342" y="417.6">6</text>
<text x="490.5" y="332.8">14,41</text>
</g>
<text transform="translate(798.3,627.6) rotate(-90)" style="font-family:'Liberation Sans',sans-serif;font-size:8.35px;fill:#1a1a1a;stroke:#1a1a1a;stroke-width:0.3px">256ET060 SC</text>
<g class="p" stroke-width="1.7">
<path d="M625.5,48.8 L651,63.6"/>
<path d="M750,24.5 L770.5,35"/>
<path d="M508,117 L542.5,135.8"/>
<path d="M448.8,150.5 L468,161.3"/>
<path d="M420,168 L444.5,181.8"/>
<path d="M420,210 L441.3,222"/>
<path d="M552,220 Q558,235 578.8,242.5"/>
<path d="M698,203.8 L729.5,221.8"/>
<path d="M707,290 L729.5,302.5"/>
<path d="M172.5,225 L190.5,215"/>
<path d="M357,247 L369.5,253"/>
<path d="M323.8,265 L351.3,280.5"/>
<path d="M243,280.5 L260,290"/>
<path d="M323.8,304.3 L351.3,319.5"/>
<path d="M143.8,302 L173.8,318.8"/>
<path d="M144,334 L164.5,345.8"/>
<path d="M120,350 L153,370 Q160,376 167.5,391"/>
<path d="M377.5,373 L405,358"/>
<path d="M424.3,393 L449.5,379.5"/>
<path d="M447.5,431.8 L472.5,418"/>
<path d="M325,426.3 L341.3,417.5"/>
<path d="M531,333.5 L550,343.5"/>
</g>

<text transform="translate(286.5,466.7) rotate(-47.9)" style="font-family:'Liberation Sans',sans-serif;font-size:62.2px;fill:#d3d3d3;stroke:#fff;stroke-width:0.6px;paint-order:fill stroke">HobbyStore.it</text>

</svg>
</body></html>
